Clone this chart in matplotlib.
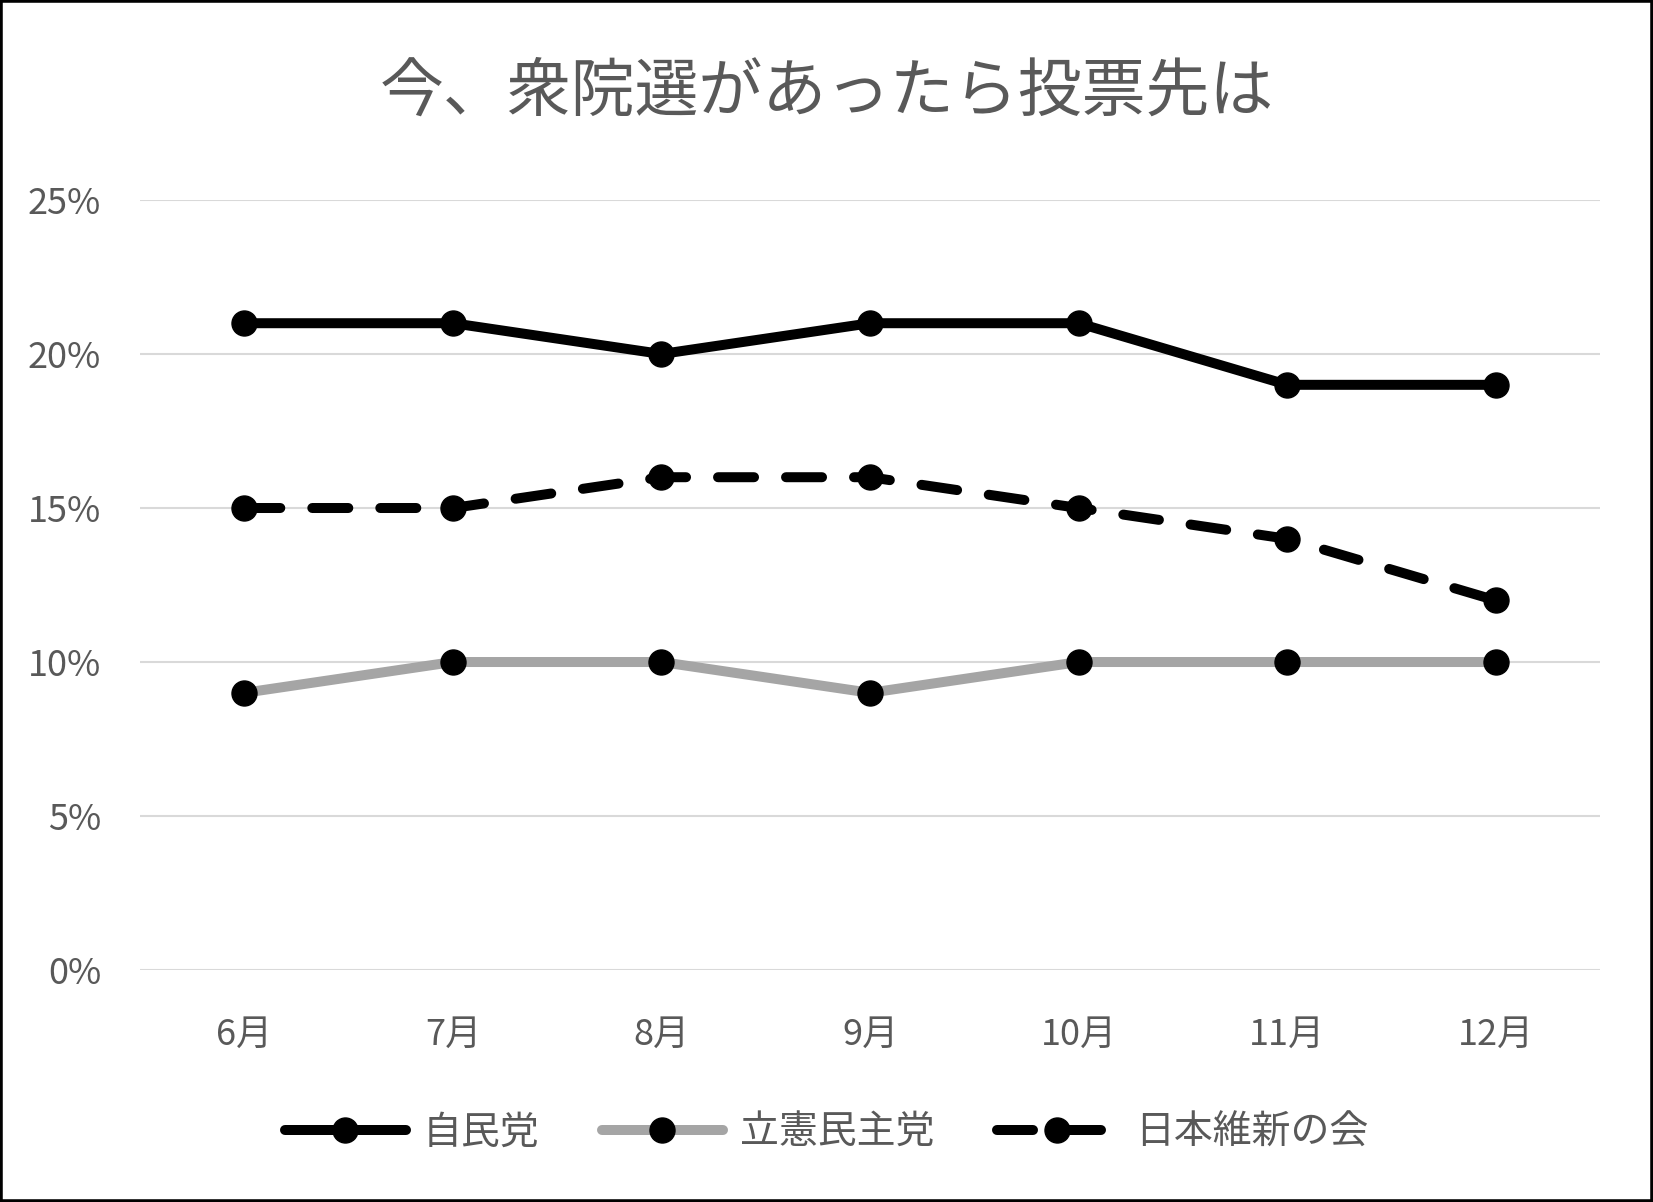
import matplotlib
matplotlib.use("Agg")
import matplotlib.pyplot as plt
from matplotlib.patches import Rectangle
from matplotlib.ticker import FuncFormatter

plt.rcParams['font.family'] = ['Noto Sans CJK JP', 'DejaVu Sans']

months = ["6月", "7月", "8月", "9月", "10月", "11月", "12月"]
ldp = [0.21, 0.21, 0.20, 0.21, 0.21, 0.19, 0.19]
cdp = [0.09, 0.10, 0.10, 0.09, 0.10, 0.10, 0.10]
ishin = [0.15, 0.15, 0.16, 0.16, 0.15, 0.14, 0.12]
series_names = ["自民党", "立憲民主党", "日本維新の会"]

txt = "#595959"
fig = plt.figure(figsize=(16.53, 12.02), dpi=100)
ax = fig.add_axes([0.0847, 0.193, 0.968 - 0.0847, 0.8336 - 0.193])

x = range(len(months))
common = dict(marker="o", markersize=18, markerfacecolor="black", markeredgecolor="black",
              lw=7.2, solid_capstyle="round", dash_capstyle="round")
ax.plot(x, ldp, color="black", label=series_names[0], **common)
ax.plot(x, cdp, color="#A5A5A5", label=series_names[1], **common)
ax.plot(x, ishin, color="black", linestyle=(0, (3.6, 3.2)), label=series_names[2], **common)

ax.set_xlim(-0.5, len(months) - 0.5)
ax.set_ylim(0, 0.25)
ax.set_yticks([0, 0.05, 0.10, 0.15, 0.20, 0.25])
ax.yaxis.set_major_formatter(FuncFormatter(lambda v, p: f"{round(v*100)}%"))
ax.set_xticks(list(x))
ax.set_xticklabels(months)
ax.tick_params(axis="both", length=0, labelsize=26, colors=txt)
ax.tick_params(axis="y", pad=28)
ax.tick_params(axis="x", pad=34)
ax.grid(axis="y", color="#D9D9D9", lw=1.5)
ax.set_axisbelow(True)
for s in ax.spines.values():
    s.set_visible(False)

fig.text(0.5, 1 - 92 / 1202, "今、衆院選があったら投票先は", ha="center", va="center",
         fontsize=46, color=txt)

fig.legend(loc="center", bbox_to_anchor=(0.5, 1 - 1133 / 1202), ncol=3, frameon=False,
           fontsize=28, labelcolor=txt, handlelength=3.1, handletextpad=0.45,
           columnspacing=1.6)

fig.patches.append(Rectangle((0, 0), 1, 1, transform=fig.transFigure, fill=False,
                             edgecolor="black", lw=4))

fig.savefig("out.png", dpi=100)
